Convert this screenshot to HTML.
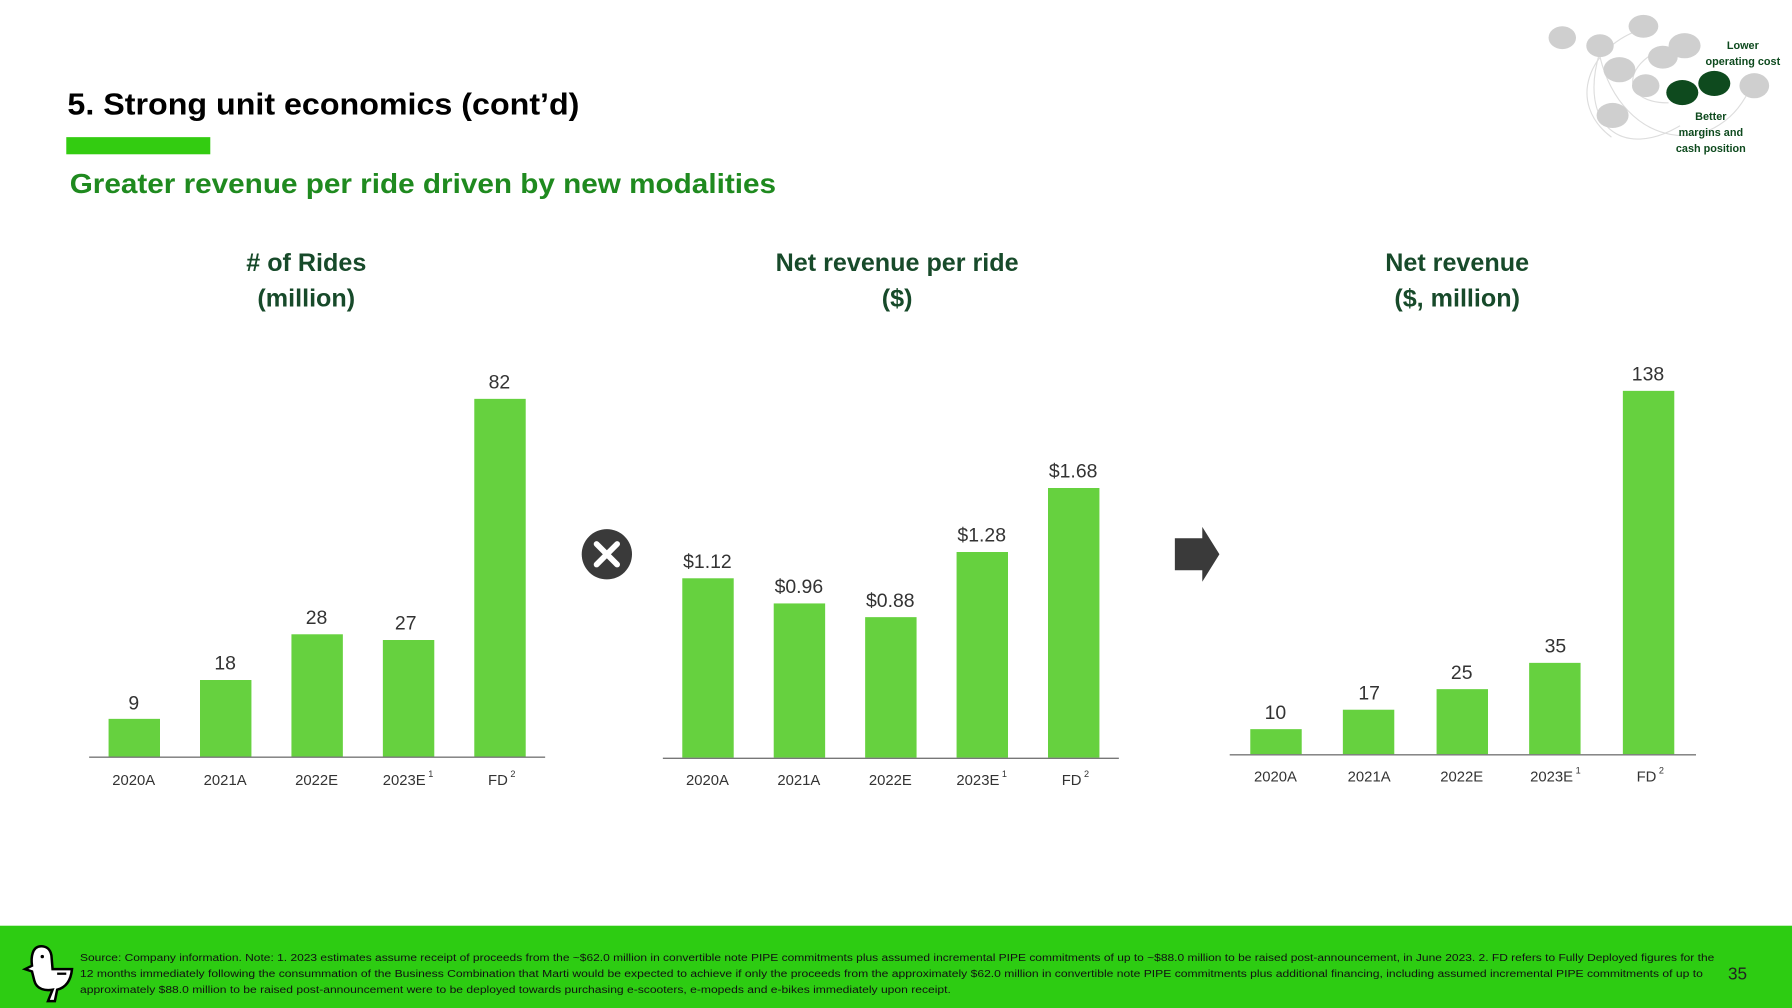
<!DOCTYPE html>
<html><head><meta charset="utf-8"><style>
html,body{margin:0;padding:0;background:#fff;}
svg{display:block;}
text{font-family:"Liberation Sans",sans-serif;}
</style></head><body>
<svg width="1792" height="1008" viewBox="0 0 1568 882" xmlns="http://www.w3.org/2000/svg">
<rect width="1568" height="882" fill="#fff"/>
<text x="59" y="100" font-size="27" font-weight="bold" fill="#000" textLength="448" lengthAdjust="spacingAndGlyphs">5. Strong unit economics (cont’d)</text>
<rect x="58" y="120" width="126" height="15" fill="#33cc11"/>
<text x="61" y="169" font-size="24" font-weight="bold" fill="#1f8a1f" textLength="618" lengthAdjust="spacingAndGlyphs">Greater revenue per ride driven by new modalities</text>

<g font-size="22" font-weight="bold" fill="#174a2a" text-anchor="middle">
<text x="268" y="237">&#35; of Rides</text><text x="268" y="268">(million)</text>
<text x="785" y="237">Net revenue per ride</text><text x="785" y="268">($)</text>
<text x="1275" y="237">Net revenue</text><text x="1275" y="268">($, million)</text>
</g>

<g fill="#66d13f">
<rect x="95" y="629" width="45" height="33"/><rect x="175" y="595" width="45" height="67"/><rect x="255" y="555" width="45" height="107"/><rect x="335" y="560" width="45" height="102"/><rect x="415" y="349" width="45" height="313"/>
<rect x="597" y="506" width="45" height="157"/><rect x="677" y="528" width="45" height="135"/><rect x="757" y="540" width="45" height="123"/><rect x="837" y="483" width="45" height="180"/><rect x="917" y="427" width="45" height="236"/>
<rect x="1094" y="638" width="45" height="22"/><rect x="1175" y="621" width="45" height="39"/><rect x="1257" y="603" width="45" height="57"/><rect x="1338" y="580" width="45" height="80"/><rect x="1420" y="342" width="45" height="318"/>
</g>
<g stroke="#777" stroke-width="1.2">
<line x1="78" y1="662.5" x2="477" y2="662.5"/><line x1="580" y1="663.5" x2="979" y2="663.5"/><line x1="1076" y1="660.5" x2="1484" y2="660.5"/>
</g>
<g font-size="17" fill="#333" text-anchor="middle">
<text x="117" y="621">9</text><text x="197" y="586">18</text><text x="277" y="546">28</text><text x="355" y="551">27</text><text x="437" y="340">82</text>
<text x="619" y="497">$1.12</text><text x="699" y="519">$0.96</text><text x="779" y="531">$0.88</text><text x="859" y="474">$1.28</text><text x="939" y="418">$1.68</text>
<text x="1116" y="629">10</text><text x="1198" y="612">17</text><text x="1279" y="594">25</text><text x="1361" y="571">35</text><text x="1442" y="333">138</text>
</g>
<g font-size="13" fill="#333" text-anchor="middle">
<text x="117" y="687">2020A</text><text x="197" y="687">2021A</text><text x="277" y="687">2022E</text><text x="357" y="687">2023E<tspan font-size="8" dy="-7"> 1</tspan></text><text x="439" y="687">FD<tspan font-size="8" dy="-7"> 2</tspan></text>
<text x="619" y="687">2020A</text><text x="699" y="687">2021A</text><text x="779" y="687">2022E</text><text x="859" y="687">2023E<tspan font-size="8" dy="-7"> 1</tspan></text><text x="941" y="687">FD<tspan font-size="8" dy="-7"> 2</tspan></text>
<text x="1116" y="684">2020A</text><text x="1198" y="684">2021A</text><text x="1279" y="684">2022E</text><text x="1361" y="684">2023E<tspan font-size="8" dy="-7"> 1</tspan></text><text x="1444" y="684">FD<tspan font-size="8" dy="-7"> 2</tspan></text>
</g>

<circle cx="531" cy="485" r="22" fill="#3a3a3a"/>
<path d="M522 476 L540 494 M540 476 L522 494" stroke="#fff" stroke-width="5" stroke-linecap="round"/>
<polygon points="1028,471 1052,471 1052,461 1067,485 1052,509 1052,499 1028,499" fill="#3a3a3a"/>

<g fill="none" stroke="#ddd" stroke-width="1">
<path d="M1410 120 C1370 90 1390 40 1438 25"/><path d="M1470 110 C1420 140 1380 110 1400 45"/><path d="M1530 80 C1500 140 1420 130 1400 50"/><path d="M1460 90 C1420 90 1420 60 1450 45"/>
</g>
<g fill="#cfcfcf">
<ellipse cx="1367" cy="33" rx="12" ry="10"/><ellipse cx="1400" cy="40" rx="12" ry="10"/><ellipse cx="1438" cy="23" rx="13" ry="10"/><ellipse cx="1474" cy="40" rx="14" ry="11"/><ellipse cx="1455" cy="50" rx="13" ry="10"/><ellipse cx="1417" cy="61" rx="14" ry="11"/><ellipse cx="1440" cy="75" rx="12" ry="10"/><ellipse cx="1535" cy="75" rx="13" ry="11"/><ellipse cx="1411" cy="101" rx="14" ry="11"/>
</g>
<ellipse cx="1472" cy="81" rx="14" ry="11" fill="#0e4a1e"/><ellipse cx="1500" cy="73" rx="14" ry="11" fill="#0e4a1e"/>
<g font-size="9.5" font-weight="bold" fill="#0e4a1e" text-anchor="middle">
<text x="1525" y="43">Lower</text><text x="1525" y="57">operating cost</text>
<text x="1497" y="105">Better</text><text x="1497" y="119">margins and</text><text x="1497" y="133">cash position</text>
</g>

<rect x="0" y="810" width="1568" height="72" fill="#2dcc12"/>
<g fill="#fff" stroke="#000" stroke-width="2.2">
<path d="M36 828 C28 828 27 838 28 845 L22 848 L28 850 L30 858 C32 866 40 867 46 866 L42 876 L48 876 L50 866 C58 864 62 858 63 848 L46 848 L45 836 C44 830 40 828 36 828 Z"/>
</g>
<line x1="50" y1="852" x2="58" y2="852" stroke="#000" stroke-width="2"/>
<circle cx="37" cy="837" r="1.5" fill="#000"/>
<g font-size="9.2" fill="#111">
<text x="70" y="841" textLength="1430" lengthAdjust="spacingAndGlyphs">Source: Company information. Note: 1. 2023 estimates assume receipt of proceeds from the ~$62.0 million in convertible note PIPE commitments plus assumed incremental PIPE commitments of up to ~$88.0 million to be raised post-announcement, in June 2023. 2. FD refers to Fully Deployed figures for the</text>
<text x="70" y="855" textLength="1420" lengthAdjust="spacingAndGlyphs">12 months immediately following the consummation of the Business Combination that Marti would be expected to achieve if only the proceeds from the approximately $62.0 million in convertible note PIPE commitments plus additional financing, including assumed incremental PIPE commitments of up to</text>
<text x="70" y="869" textLength="762" lengthAdjust="spacingAndGlyphs">approximately $88.0 million to be raised post-announcement were to be deployed towards purchasing e-scooters, e-mopeds and e-bikes immediately upon receipt.</text>
</g>
<text x="1512" y="857" font-size="15" fill="#222">35</text>
</svg>
</body></html>
